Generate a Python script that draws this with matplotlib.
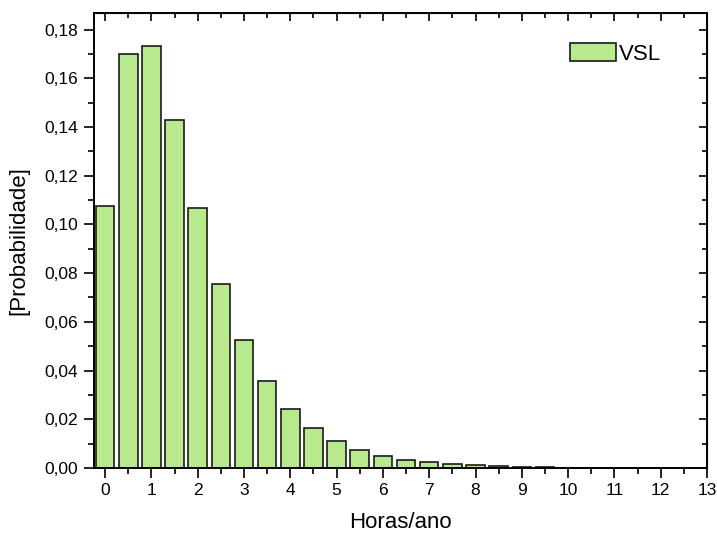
import matplotlib
matplotlib.use("Agg")
import matplotlib.pyplot as plt
from matplotlib.ticker import MultipleLocator, FuncFormatter

plt.rcParams['font.family'] = ['Liberation Sans', 'DejaVu Sans']

hours = [0, 0.5, 1, 1.5, 2, 2.5, 3, 3.5, 4, 4.5, 5, 5.5, 6, 6.5, 7, 7.5, 8,
         8.5, 9, 9.5, 10, 10.5, 11, 11.5, 12, 12.5]
prob = [0.1074, 0.1700, 0.1731, 0.1428, 0.1066, 0.0757, 0.0525, 0.0358,
        0.0242, 0.0163, 0.0111, 0.0074, 0.0049, 0.0033, 0.0023, 0.0015,
        0.0011, 0.0007, 0.0005, 0.0003, 0.0002, 0.0001, 0.0001, 0.00005,
        0.00003, 0.00002]
series_name = "VSL"
xlabel = "Horas/ano"
ylabel = "[Probabilidade]"

fig = plt.figure(figsize=(7.17, 5.36), dpi=100)
L, R, T, B = 94, 707, 13, 468
ax = fig.add_axes([L/717, 1-B/536, (R-L)/717, (B-T)/536])

ax.bar(hours, prob, width=0.4, color='#b9e98d', edgecolor='#1a1a1a',
       linewidth=1.2, label=series_name, zorder=2)

ax.set_xlim(-0.24, 13)
ax.set_ylim(0, 0.1868)
ax.xaxis.set_major_locator(MultipleLocator(1))
ax.xaxis.set_minor_locator(MultipleLocator(0.5))
ax.yaxis.set_major_locator(MultipleLocator(0.02))
ax.yaxis.set_minor_locator(MultipleLocator(0.01))
ax.yaxis.set_major_formatter(FuncFormatter(lambda v, p: f"{v:.2f}".replace('.', ',')))
ax.xaxis.set_major_formatter(FuncFormatter(lambda v, p: f"{v:.0f}"))

for s in ax.spines.values():
    s.set_linewidth(1.4)
ax.tick_params(which='major', length=7, width=1.2, labelsize=12.5, direction='out')
ax.tick_params(axis='y', which='major', pad=4.5)
ax.tick_params(which='minor', length=4, width=1.2, direction='out')

# mirrored inward ticks on top/right
axt = ax.secondary_xaxis('top')
axt.xaxis.set_major_locator(MultipleLocator(1))
axt.xaxis.set_minor_locator(MultipleLocator(0.5))
axt.tick_params(which='major', direction='in', length=6, width=1.2, labeltop=False)
axt.tick_params(which='minor', direction='in', length=3.5, width=1.2)
axr = ax.secondary_yaxis('right')
axr.yaxis.set_major_locator(MultipleLocator(0.02))
axr.yaxis.set_minor_locator(MultipleLocator(0.01))
axr.tick_params(which='major', direction='in', length=6, width=1.2, labelright=False)
axr.tick_params(which='minor', direction='in', length=3.5, width=1.2)

ax.set_xlabel(xlabel, fontsize=16, labelpad=10.5)
ax.set_ylabel(ylabel, fontsize=16, labelpad=11)

ax.legend(loc='upper left', bbox_to_anchor=((570-L)/(R-L), 1-(43-T)/(B-T)),
          frameon=False, fontsize=16, handlelength=2.07, handleheight=0.86,
          handletextpad=0.15, borderpad=0, borderaxespad=0)

fig.savefig("out.png", dpi=100)
